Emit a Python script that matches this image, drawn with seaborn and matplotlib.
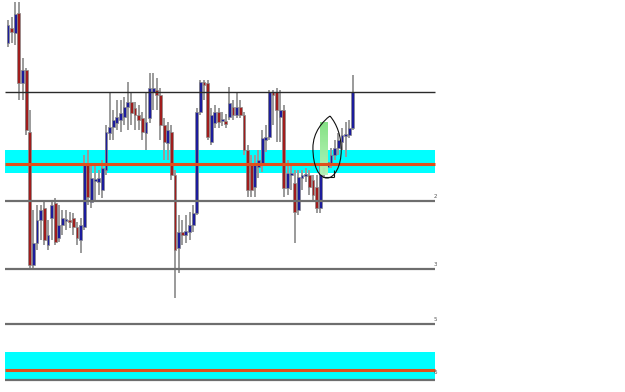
import numpy as np
import matplotlib
matplotlib.use("Agg")
import matplotlib.pyplot as plt
import seaborn as sns
from matplotlib.patches import Rectangle, PathPatch
from matplotlib.path import Path

# Price values expressed on the chart's (inverted) vertical scale
opens  = [43,28,33,13,83,70,132,265,243,220,208,245,218,203,238,225,221,220,218,227,
          240,227,165,202,181,182,190,170,133,127,123,120,117,107,102,108,115,118,133,118,
          92,90,95,125,143,132,175,248,232,235,232,225,213,112,82,83,142,123,112,121,
          121,117,107,115,107,115,150,163,187,167,163,140,137,92,92,117,110,188,175,183,
          210,178,176,175,180,187,208,173,167,163,155,148,142,136,135,128]
closes = [25,32,14,83,70,130,265,243,220,210,240,235,205,242,225,218,219,222,227,238,
          225,165,197,178,179,178,168,132,127,120,117,113,107,102,113,115,120,132,122,88,
          88,95,125,142,130,175,250,232,235,231,225,213,112,82,85,137,115,112,122,119,
          124,103,115,107,115,150,190,190,163,160,138,137,92,95,110,110,188,173,173,212,
          177,175,174,187,195,208,173,167,162,155,148,140,135,134,128,92]
highs  = [20,17,2,2,58,68,110,210,205,205,200,220,200,198,205,210,210,212,213,222,
          218,155,150,165,165,170,160,125,92,110,100,100,97,82,92,102,105,112,93,73,
          73,78,88,118,122,125,170,215,220,215,212,205,108,80,80,80,108,105,108,112,
          114,87,100,92,100,112,145,155,155,150,130,125,90,90,88,90,105,160,165,170,
          170,170,168,170,175,175,165,160,155,148,140,133,128,122,120,75]
lows   = [47,43,45,100,100,135,270,268,250,240,245,250,240,245,242,235,230,228,235,245,
          253,230,205,208,200,195,198,175,140,140,130,132,125,130,125,130,130,140,150,123,
          110,110,140,160,160,180,298,273,245,243,240,232,215,115,100,140,145,128,128,126,
          128,120,120,118,118,155,197,197,197,178,172,152,140,125,142,142,197,195,190,243,
          215,190,182,195,200,213,213,178,172,168,160,155,150,157,138,130]

levels_dark = [92]
levels_gray = [201, 269, 324, 380]
level_labels = ["2", "3", "5", "6"]
label_levels = [201, 269, 324, 377]
zones = [(150, 173), (352, 379)]
zone_mid = [164, 370]

highlight_x = (86.0, 88.2)
highlight_y = (122, 175)

n = len(opens)
x = np.arange(n)
bar_w = 0.78
line_start, line_end = -0.85, n + 21.6

sns.set_theme(style="white")
fig = plt.figure(figsize=(6.25, 3.92), dpi=100)
ax = fig.add_axes([0, 0, 1, 1])
ax.set_xlim(-8 / 3.63, 617 / 3.63)
ax.set_ylim(392, 0)
ax.axis("off")

# zones
for (a, b), m in zip(zones, zone_mid):
    ax.add_patch(Rectangle((line_start, a), line_end - line_start, b - a,
                           color="#00ffff", lw=0, zorder=1))

# candles
wick_c = "#9a9a9a"
ax.vlines(x, highs, lows, color=wick_c, lw=1.4, zorder=2)
for i in range(n):
    o, c = opens[i], closes[i]
    up = c < o
    col = "#1c1c9c" if up else "#a01c1c"
    top, bot = min(o, c), max(o, c)
    h = max(bot - top, 1.2)
    ax.add_patch(Rectangle((i - bar_w / 2, top), bar_w, h, facecolor=col,
                           edgecolor="#8a8a8a", lw=0.5, zorder=3))

# highlight rectangle with green gradient
grad = np.linspace(0, 1, 50).reshape(-1, 1)
from matplotlib.colors import LinearSegmentedColormap
cm = LinearSegmentedColormap.from_list("g", ["#7fe07f", "#b8f5b8"])
ax.imshow(grad, extent=(highlight_x[0], highlight_x[1], highlight_y[1], highlight_y[0]),
          cmap=cm, aspect="auto", zorder=3.5, alpha=0.95)

# levels
for y in levels_dark:
    ax.hlines(y, line_start, line_end, color="#2a2a2a", lw=1.0, zorder=4)
for y in levels_gray:
    ax.hlines(y, line_start, line_end, color="#6e6e6e", lw=1.6, zorder=4)
for m in zone_mid:
    ax.hlines(m, line_start, line_end, color="#e0501c", lw=2.2, zorder=4)
for lab, y in zip(level_labels, label_levels):
    ax.text(line_end - 0.3, y - 2, lab, fontsize=4, color="#555555",
            ha="left", va="bottom", zorder=5)

# teardrop annotation
verts = [(88.7, 116),
         (90.6, 124), (91.8, 136), (91.8, 150),
         (91.8, 166), (90.0, 178), (87.9, 178),
         (85.6, 178), (84.0, 166), (84.0, 148),
         (84.0, 132), (86.8, 121), (88.7, 116)]
codes = [Path.MOVETO] + [Path.CURVE4] * 12
ax.add_patch(PathPatch(Path(verts, codes), facecolor="none", edgecolor="#111111",
                       lw=0.8, zorder=6))
ax.hlines(177, 86.8, 89.8, color="#111111", lw=0.8, zorder=6)
ax.vlines(89.8, 170, 177, color="#111111", lw=0.8, zorder=6)

fig.savefig("out.png", dpi=100)
